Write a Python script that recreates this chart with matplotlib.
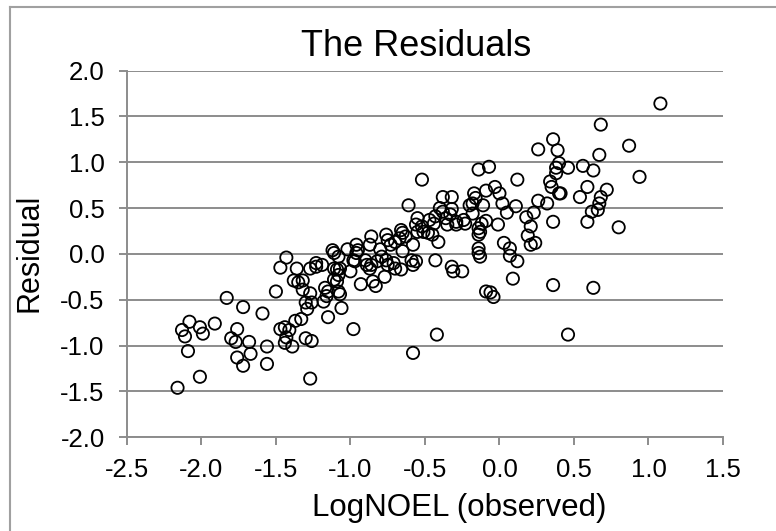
import numpy as np
import matplotlib.pyplot as plt
from matplotlib.lines import Line2D

# LogNOEL (observed) vs residual
log_noel = [
    -2.16, -2.13, -2.11, -2.08, -2.09, -2.01, -1.99, -2.01, -1.91, -1.83,
    -1.80, -1.76, -1.77, -1.76, -1.72, -1.72, -1.68, -1.67, -1.59, -1.56,
    -1.56, -1.50, -1.47, -1.43, -1.47, -1.44, -1.41, -1.43, -1.44, -1.39,
    -1.37, -1.33, -1.30, -1.26, -1.27, -1.38, -1.35, -1.32, -1.32, -1.27,
    -1.36, -1.27, -1.23, -1.30, -1.26, -1.29, -1.06, -1.15, -0.98, -0.42,
    -0.58, -1.18, -0.86, -0.87, -0.96, -0.95, -0.96, -1.02, -1.12, -1.11,
    -1.08, -0.76, -0.75, -0.80, -0.79, -0.98, -0.97, -0.90, -0.89, -0.87,
    -0.86, -0.82, -1.00, -0.76, -0.75, -0.77, -0.93, -0.85, -0.83, -1.11,
    -1.09, -1.07, -1.08, -1.11, -1.09, -1.19, -1.23, -1.17, -1.15, -1.16,
    -1.08, -1.07,
    -0.14, -0.07, -0.52, -0.38, -0.32, -0.17, -0.16, -0.18, -0.20, -0.61,
    -0.40, -0.38, -0.32, -0.33, -0.18, -0.43, -0.47, -0.44, -0.36, -0.35,
    -0.29, -0.29, -0.24, -0.23, -0.55, -0.56, -0.52, -0.51, -0.48, -0.55,
    -0.45, -0.41, -0.58, -0.66, -0.65, -0.63, -0.67, -0.73, -0.70, -0.65,
    -0.43, -0.59, -0.56, -0.58, -0.71, -0.70, -0.32, -0.31, -0.25, -0.14,
    -0.13, -0.14, -0.12, -0.14, -0.14, -0.13, -0.66,
    1.08, 0.68, 0.36, 0.26, 0.39, 0.87, 0.67, 0.40, 0.38, 0.38,
    0.46, 0.56, 0.63, 0.94, 0.12, 0.34, 0.35, 0.59, 0.72, 0.40,
    0.41, 0.54, 0.68, 0.67, 0.66, 0.62, 0.26, 0.32, -0.09, -0.03,
    0.00, -0.11, 0.02, 0.11, 0.05, 0.18, 0.23, 0.21, 0.19, 0.36,
    0.59, 0.80, -0.09, -0.01, 0.03, 0.07, 0.21, 0.24, 0.07, 0.12,
    0.09, 0.36, 0.63, -0.09, -0.06, -0.04, 0.46,
]
residual = [
    -1.46, -0.83, -0.90, -0.74, -1.06, -0.80, -0.87, -1.34, -0.76, -0.48,
    -0.92, -0.82, -0.96, -1.13, -0.58, -1.22, -0.96, -1.09, -0.65, -1.01,
    -1.20, -0.41, -0.15, -0.04, -0.82, -0.80, -0.83, -0.91, -0.97, -1.01,
    -0.73, -0.71, -0.92, -0.95, -1.36, -0.29, -0.31, -0.29, -0.39, -0.43,
    -0.16, -0.16, -0.10, -0.53, -0.53, -0.60, -0.59, -0.69, -0.82, -0.88,
    -1.08, -0.52, 0.19, 0.10, 0.10, 0.04, 0.01, 0.05, 0.04, 0.01,
    -0.03, 0.21, 0.15, 0.05, -0.03, -0.07, -0.08, -0.07, -0.12, -0.16,
    -0.12, -0.08, -0.19, -0.07, -0.12, -0.25, -0.33, -0.30, -0.35, -0.16,
    -0.17, -0.16, -0.23, -0.28, -0.30, -0.12, -0.14, -0.37, -0.41, -0.46,
    -0.41, -0.44,
    0.92, 0.95, 0.81, 0.62, 0.62, 0.66, 0.61, 0.55, 0.53, 0.53,
    0.50, 0.46, 0.49, 0.43, 0.44, 0.41, 0.37, 0.33, 0.39, 0.32,
    0.35, 0.32, 0.37, 0.33, 0.39, 0.32, 0.30, 0.24, 0.23, 0.24,
    0.21, 0.13, 0.10, 0.26, 0.23, 0.19, 0.17, 0.10, 0.13, 0.03,
    -0.07, -0.07, -0.08, -0.12, -0.10, -0.16, -0.14, -0.19, -0.19, 0.28,
    0.24, 0.21, 0.33, 0.06, 0.01, -0.03, -0.17,
    1.64, 1.41, 1.25, 1.14, 1.13, 1.18, 1.08, 0.99, 0.94, 0.88,
    0.94, 0.96, 0.91, 0.84, 0.81, 0.79, 0.73, 0.73, 0.70, 0.66,
    0.66, 0.62, 0.62, 0.55, 0.48, 0.46, 0.58, 0.55, 0.69, 0.73,
    0.66, 0.53, 0.55, 0.52, 0.45, 0.40, 0.45, 0.30, 0.20, 0.35,
    0.35, 0.29, 0.36, 0.32, 0.12, 0.06, 0.10, 0.12, -0.02, -0.08,
    -0.27, -0.34, -0.37, -0.41, -0.42, -0.47, -0.88,
]

x_ticks = [-2.5, -2.0, -1.5, -1.0, -0.5, 0.0, 0.5, 1.0, 1.5]
y_ticks = [-2.0, -1.5, -1.0, -0.5, 0.0, 0.5, 1.0, 1.5, 2.0]

plt.rcParams['font.family'] = ['Liberation Sans', 'DejaVu Sans']
grey = '#8c8c8c'

fig = plt.figure(figsize=(7.76, 5.31), dpi=100)
ax = fig.add_axes([0.1635, 0.1765, 0.7682, 0.6907])

ax.scatter(log_noel, residual, s=78, facecolors='none', edgecolors='black',
           linewidths=1.3, zorder=3)

ax.set_xlim(-2.5, 1.5)
ax.set_ylim(-2.0, 2.0)
ax.set_xticks(x_ticks)
ax.set_yticks(y_ticks)
ax.set_xticklabels([f'{v:.1f}' for v in x_ticks])
ax.set_yticklabels([f'{v:.1f}' for v in y_ticks])
ax.yaxis.grid(True, color=grey, linewidth=1.4)
ax.set_axisbelow(True)

for side in ['top', 'right']:
    ax.spines[side].set_visible(False)
for side in ['left', 'bottom']:
    ax.spines[side].set_color(grey)
    ax.spines[side].set_linewidth(1.4)

ax.tick_params(axis='both', direction='out', length=6, width=1.4,
               color=grey, labelsize=18.5)
ax.tick_params(axis='y', pad=10)
ax.tick_params(axis='x', pad=9)

fig.text(416 / 776, 1 - 47 / 531, 'The Residuals', fontsize=26,
         ha='center', va='center')
fig.text(459 / 776, 1 - 508 / 531, 'LogNOEL (observed)', fontsize=22.5,
         ha='center', va='center')
fig.text(30 / 776, 1 - 253 / 531, 'Residual', fontsize=22, rotation=90,
         ha='center', va='center')

# outer chart frame
fig.add_artist(Line2D([10 / 776, 10 / 776], [0, 1 - 7 / 531],
                      transform=fig.transFigure, color='#a0a0a0', linewidth=1.5))
fig.add_artist(Line2D([10 / 776, 1], [1 - 7 / 531, 1 - 7 / 531],
                      transform=fig.transFigure, color='#a0a0a0', linewidth=1.5))

fig.savefig('out.png', dpi=100)
